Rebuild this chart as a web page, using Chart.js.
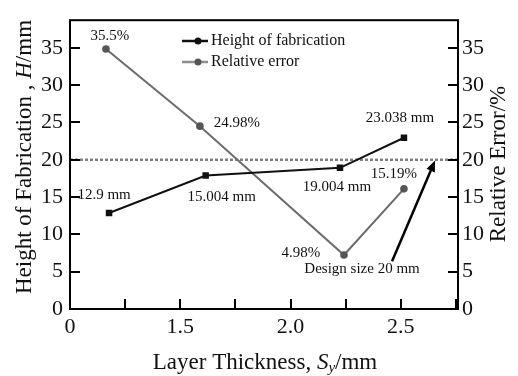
<!DOCTYPE html>
<html>
<head>
<meta charset="utf-8">
<script src="https://cdn.jsdelivr.net/npm/chart.js@4.4.0/dist/chart.umd.min.js"></script>
<style>
  html, body { margin: 0; padding: 0; background: #fff; }
</style>
</head>
<body>
<canvas id="chart" width="518" height="376"></canvas>
<script>
// x axis is drawn in real layer thickness; the first label reads "0" at 1.0 (broken axis)
const xTickLabels = { 1: "0", 1.5: "1.5", 2: "2.0", 2.5: "2.5" };
const heightX = [1.177, 1.615, 2.224, 2.514];
const heightY = [12.86, 17.88, 18.92, 22.95];
const heightLabels = ["12.9 mm", "15.004 mm", "19.004 mm", "23.038 mm"];
const errorX = [1.163, 1.589, 2.242, 2.514];
const errorY = [34.84, 24.5, 7.23, 16.1];
const errorLabels = ["35.5%", "24.98%", "4.98%", "15.19%"];
const designSize = 20;
const designLabel = "Design size 20 mm";

const SERIF = "'Liberation Serif', 'Times New Roman', serif";
const BLACK = "#111111";
const GREY_LINE = "#6c6c6c";
const GREY_POINT = "#555555";

function toPoints(xs, ys) {
  return xs.map((x, i) => ({ x, y: ys[i] }));
}

// label offsets in px from each point
const heightOffsets = [[-5, -18], [16, 21], [-3, 19], [-4, -20]];
const errorOffsets = [[4, -13], [37, -3], [-43, -2], [-10, -15]];

function drawRich(ctx, parts, x, y, align) {
  // parts: [{text, italic, sub}]
  let total = 0;
  parts.forEach((p) => {
    ctx.font = (p.italic ? "italic " : "") + p.size + "px " + SERIF;
    p.w = ctx.measureText(p.text).width;
    total += p.w;
  });
  let cx = align === "center" ? x - total / 2 : x;
  parts.forEach((p) => {
    ctx.font = (p.italic ? "italic " : "") + p.size + "px " + SERIF;
    ctx.fillText(p.text, cx, y + (p.sub ? 5 : 0));
    cx += p.w;
  });
}

const decorPlugin = {
  id: "decor",
  afterDatasetsDraw(chart) {
    const { ctx, chartArea: a, scales } = chart;
    const xs = scales.x, yl = scales.y, yr = scales.y2;
    ctx.save();

    // frame
    ctx.strokeStyle = "#000";
    ctx.lineWidth = 2;
    ctx.strokeRect(a.left, a.top, a.right - a.left, a.bottom - a.top);

    // inward tick marks
    ctx.beginPath();
    xs.ticks.forEach((t) => {
      const px = Math.round(xs.getPixelForValue(t.value));
      ctx.moveTo(px, a.bottom);
      ctx.lineTo(px, a.bottom - 10);
    });
    yl.ticks.forEach((t) => {
      const py = Math.round(yl.getPixelForValue(t.value));
      ctx.moveTo(a.left, py);
      ctx.lineTo(a.left + 10, py);
    });
    yr.ticks.forEach((t) => {
      const py = Math.round(yr.getPixelForValue(t.value));
      ctx.moveTo(a.right, py);
      ctx.lineTo(a.right - 10, py);
    });
    ctx.stroke();

    // point labels
    ctx.fillStyle = "#111";
    ctx.font = "15px " + SERIF;
    ctx.textAlign = "center";
    ctx.textBaseline = "middle";
    const drawLabels = (dsIndex, labels, offsets) => {
      chart.getDatasetMeta(dsIndex).data.forEach((el, i) => {
        ctx.fillText(labels[i], el.x + offsets[i][0], el.y + offsets[i][1]);
      });
    };
    drawLabels(0, heightLabels, heightOffsets);
    drawLabels(1, errorLabels, errorOffsets);

    // arrow to the design size line
    const x0 = xs.getPixelForValue(2.46), y0 = yl.getPixelForValue(6.4);
    const x1 = xs.getPixelForValue(2.655), y1 = yl.getPixelForValue(designSize - 0.1);
    const ang = Math.atan2(y1 - y0, x1 - x0);
    ctx.strokeStyle = "#000";
    ctx.lineWidth = 2.5;
    ctx.beginPath();
    ctx.moveTo(x0, y0);
    ctx.lineTo(x1 - 6 * Math.cos(ang), y1 - 6 * Math.sin(ang));
    ctx.stroke();
    ctx.fillStyle = "#000";
    ctx.beginPath();
    ctx.moveTo(x1, y1);
    ctx.lineTo(x1 - 11 * Math.cos(ang) + 4.5 * Math.sin(ang), y1 - 11 * Math.sin(ang) - 4.5 * Math.cos(ang));
    ctx.lineTo(x1 - 11 * Math.cos(ang) - 4.5 * Math.sin(ang), y1 - 11 * Math.sin(ang) + 4.5 * Math.cos(ang));
    ctx.closePath();
    ctx.fill();
    ctx.fillStyle = "#111";
    ctx.font = "15px " + SERIF;
    ctx.fillText(designLabel, x0 - 30, y0 + 8);

    // legend
    const legend = [
      { text: "Height of fabrication", line: BLACK, point: BLACK, y: 41 },
      { text: "Relative error", line: "#8c8c8c", point: GREY_POINT, y: 62 },
    ];
    legend.forEach((l) => {
      ctx.strokeStyle = l.line;
      ctx.lineWidth = 2.5;
      ctx.beginPath();
      ctx.moveTo(182, l.y);
      ctx.lineTo(208, l.y);
      ctx.stroke();
      ctx.fillStyle = l.point;
      ctx.beginPath();
      ctx.arc(198, l.y, 3.5, 0, Math.PI * 2);
      ctx.fill();
      ctx.fillStyle = "#111";
      ctx.font = "16px " + SERIF;
      ctx.textAlign = "left";
      ctx.fillText(l.text, 211, l.y);
    });

    // axis titles
    ctx.fillStyle = "#111";
    ctx.textBaseline = "middle";
    ctx.textAlign = "left";
    drawRich(ctx, [
      { text: "Layer Thickness, ", size: 23 },
      { text: "S", size: 23, italic: true },
      { text: "y", size: 15, italic: true, sub: true },
      { text: "/mm", size: 23 },
    ], (a.left + a.right) / 2 + 1, 363, "center");

    ctx.save();
    ctx.translate(25, 157);
    ctx.rotate(-Math.PI / 2);
    drawRich(ctx, [
      { text: "Height of Fabrication , ", size: 23 },
      { text: "H", size: 23, italic: true },
      { text: "/mm", size: 23 },
    ], 0, 0, "center");
    ctx.restore();

    ctx.save();
    ctx.translate(499, 164);
    ctx.rotate(-Math.PI / 2);
    drawRich(ctx, [{ text: "Relative Error/%", size: 23 }], 0, 0, "center");
    ctx.restore();

    ctx.restore();
  },
};

const tickFont = { family: SERIF, size: 22 };

new Chart(document.getElementById("chart"), {
  type: "line",
  data: {
    datasets: [
      {
        label: "Height of fabrication",
        data: toPoints(heightX, heightY),
        yAxisID: "y",
        borderColor: BLACK,
        backgroundColor: BLACK,
        borderWidth: 2,
        pointStyle: "rect",
        pointRadius: 4.6,
        pointBorderWidth: 0,
        tension: 0,
      },
      {
        label: "Relative error",
        data: toPoints(errorX, errorY),
        yAxisID: "y2",
        borderColor: GREY_LINE,
        backgroundColor: GREY_POINT,
        pointBorderColor: GREY_POINT,
        borderWidth: 2,
        pointStyle: "circle",
        pointRadius: 3.8,
        pointBorderWidth: 0,
        tension: 0,
      },
      {
        label: "Design size",
        data: [{ x: 1, y: designSize }, { x: 2.759, y: designSize }],
        yAxisID: "y",
        borderColor: "#808080",
        borderWidth: 2.5,
        borderDash: [3, 2],
        pointRadius: 0,
      },
    ],
  },
  options: {
    responsive: false,
    animation: false,
    devicePixelRatio: 1,
    layout: { padding: { top: 11 } },
    plugins: { legend: { display: false }, tooltip: { enabled: false } },
    scales: {
      x: {
        type: "linear",
        min: 1,
        max: 2.759,
        grid: { display: false, drawTicks: false },
        border: { display: false },
        ticks: {
          stepSize: 0.25,
          includeBounds: false,
          autoSkip: false,
          maxRotation: 0,
          padding: 5,
          color: "#111",
          font: tickFont,
          callback: (v) => (xTickLabels[v] !== undefined ? xTickLabels[v] : ""),
        },
        afterFit: (s) => { s.height = 67; },
      },
      y: {
        position: "left",
        min: 0,
        max: 38.7,
        grid: { display: false, drawTicks: false },
        border: { display: false },
        ticks: { stepSize: 5, includeBounds: false, padding: 7, color: "#111", font: tickFont },
        afterFit: (s) => { s.width = 70; },
      },
      y2: {
        position: "right",
        min: 0,
        max: 38.7,
        grid: { display: false, drawTicks: false },
        border: { display: false },
        ticks: { stepSize: 5, includeBounds: false, padding: 4, color: "#111", font: tickFont },
        afterFit: (s) => { s.width = 60; },
      },
    },
  },
  plugins: [decorPlugin],
});
</script>
</body>
</html>
